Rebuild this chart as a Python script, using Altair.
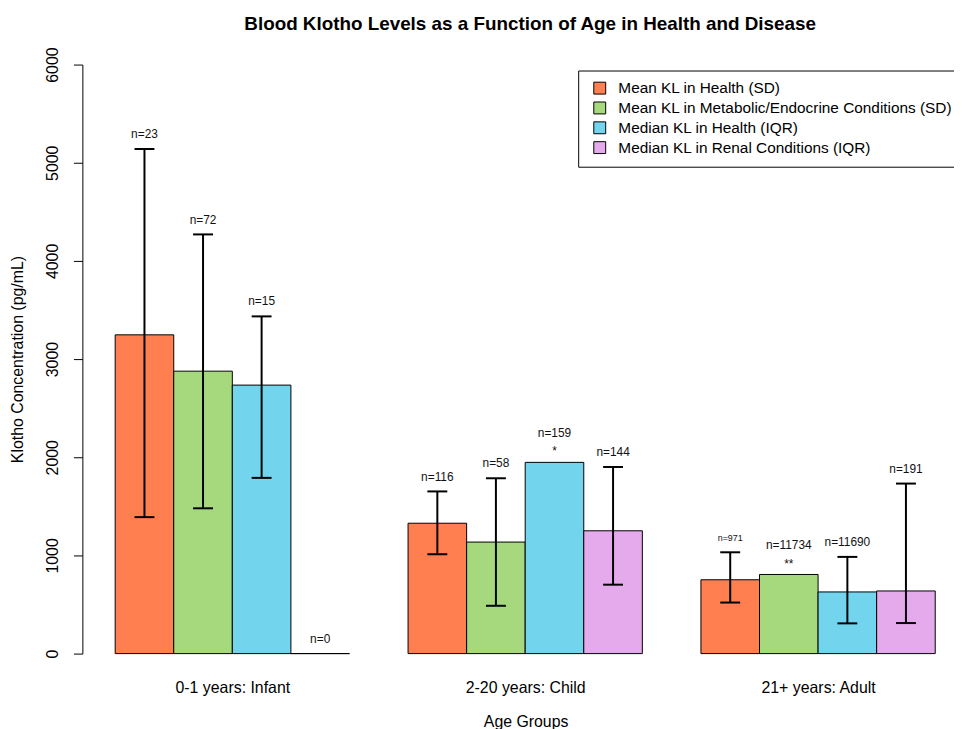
import altair as alt
import pandas as pd

# ---- data ----
groups = ["0-1 years: Infant", "2-20 years: Child", "21+ years: Adult"]
series = [
    "Mean KL in Health (SD)",
    "Mean KL in Metabolic/Endocrine Conditions (SD)",
    "Median KL in Health (IQR)",
    "Median KL in Renal Conditions (IQR)",
]
colors = ["#FF7F50", "#A6D97D", "#72D4ED", "#E5AAEB"]

# values per series, one entry per age group
health_mean = [3247, 1328, 752]
health_mean_lo = [1390, 1012, 520]
health_mean_hi = [5140, 1652, 1032]
health_mean_n = [23, 116, 971]

metab_mean = [2877, 1136, 806]
metab_mean_lo = [1480, 487, None]
metab_mean_hi = [4270, 1786, None]
metab_mean_n = [72, 58, 11734]

health_median = [2735, 1948, 628]
health_median_lo = [1790, None, 308]
health_median_hi = [3435, None, 985]
health_median_n = [15, 159, 11690]

renal_median = [0, 1251, 638]
renal_median_lo = [None, 702, 311]
renal_median_hi = [None, 1901, 1732]
renal_median_n = [0, 144, 191]

significance = {(2, 1): "*", (1, 2): "**"}  # (series, group) -> marker

y_ticks = [0, 1000, 2000, 3000, 4000, 5000, 6000]

# ---- build table ----
vals = [health_mean, metab_mean, health_median, renal_median]
los = [health_mean_lo, metab_mean_lo, health_median_lo, renal_median_lo]
his = [health_mean_hi, metab_mean_hi, health_median_hi, renal_median_hi]
ns = [health_mean_n, metab_mean_n, health_median_n, renal_median_n]

rows = []
for g, grp in enumerate(groups):
    for s, ser in enumerate(series):
        xl = 1 + 5 * g + s
        lo = los[s][g]
        hi = his[s][g]
        rows.append(
            dict(
                group=grp,
                series=ser,
                xl=xl,
                xr=xl + 1,
                xc=xl + 0.5,
                value=vals[s][g],
                lo=lo,
                hi=hi,
                ref=hi if hi is not None else vals[s][g],
                n=ns[s][g],
                nlabel=f"n={ns[s][g]}",
                sig=significance.get((s, g), ""),
            )
        )
df = pd.DataFrame(rows)

centers = [1 + 5 * g + 2 for g in range(len(groups))]
label_expr = "[" + ",".join(f"'{g}'" for g in groups) + "][(datum.value - 3) / 5]"

FONT = "Liberation Sans"
xscale = alt.Scale(domain=[0.44, 15.185], nice=False, zero=False)
yscale = alt.Scale(domain=[0, 6000], nice=False, zero=False)

base = alt.Chart(df)

bars = base.mark_rect(stroke="black", strokeWidth=1).encode(
    x=alt.X(
        "xl:Q",
        scale=xscale,
        axis=alt.Axis(
            values=centers,
            labelExpr=label_expr,
            domain=False,
            ticks=False,
            tickSize=0,
            grid=False,
            labelPadding=26,
            labelFontSize=16,
            labelColor="black",
            title="Age Groups",
            titleFontSize=16,
            titleFontWeight="normal",
            titleColor="black",
            titleX=447,
            titleY=69,
            titleAlign="center",
            titleBaseline="middle",
        ),
    ),
    x2="xr:Q",
    y=alt.Y(
        "value:Q",
        scale=yscale,
        axis=alt.Axis(
            values=y_ticks,
            format="d",
            grid=False,
            tickSize=9,
            tickColor="black",
            domainColor="black",
            labelAngle=-90,
            labelAlign="center",
            labelBaseline="bottom",
            labelPadding=13,
            labelFontSize=16,
            labelColor="black",
            title="Klotho Concentration (pg/mL)",
            titleFontSize=16,
            titleFontWeight="normal",
            titleColor="black",
            titleAngle=-90,
            titleX=-65,
            titleY=297,
            titleAlign="center",
            titleBaseline="middle",
        ),
    ),
    y2=alt.datum(0),
    color=alt.Color(
        "series:N",
        scale=alt.Scale(domain=series, range=colors),
        legend=alt.Legend(
            title=None,
            orient="none",
            legendX=500,
            legendY=6,
            strokeColor="black",
            fillColor="white",
            padding=10,
            symbolType="square",
            symbolSize=144,
            symbolOffset=4,
            symbolStrokeColor="black",
            symbolStrokeWidth=1,
            symbolOpacity=1,
            labelFontSize=15.5,
            labelColor="black",
            labelOffset=11,
            rowPadding=2,
            labelLimit=600,
        ),
    ),
)

err = base.transform_filter("datum.lo != null").mark_rule(
    color="black", strokeWidth=2
).encode(x="xc:Q", y="lo:Q", y2="hi:Q")

cap_lo = (
    base.transform_filter("datum.lo != null")
    .transform_calculate(a="datum.xc - 0.17", b="datum.xc + 0.17")
    .mark_rule(color="black", strokeWidth=2)
    .encode(x="a:Q", x2="b:Q", y="lo:Q")
)
cap_hi = (
    base.transform_filter("datum.hi != null")
    .transform_calculate(a="datum.xc - 0.17", b="datum.xc + 0.17")
    .mark_rule(color="black", strokeWidth=2)
    .encode(x="a:Q", x2="b:Q", y="hi:Q")
)

nsize = alt.condition("datum.n == 971", alt.value(9), alt.value(12))

ntext_plain = (
    base.transform_filter("datum.sig == ''")
    .mark_text(font=FONT, baseline="alphabetic", dy=-11, color="#111111")
    .encode(x="xc:Q", y="ref:Q", text="nlabel:N", size=nsize)
)
ntext_sig = (
    base.transform_filter("datum.sig != ''")
    .mark_text(font=FONT, baseline="alphabetic", dy=-26, color="#111111", fontSize=12)
    .encode(x="xc:Q", y="ref:Q", text="nlabel:N")
)
sigtext = (
    base.transform_filter("datum.sig != ''")
    .mark_text(font=FONT, baseline="alphabetic", dy=-7, color="#111111", fontSize=12)
    .encode(x="xc:Q", y="ref:Q", text="sig:N")
)

chart = (
    alt.layer(bars, err, cap_lo, cap_hi, ntext_plain, ntext_sig, sigtext)
    .properties(
        width=871,
        height=594,
        title=alt.TitleParams(
            "Blood Klotho Levels as a Function of Age in Health and Disease",
            fontSize=19,
            fontWeight="bold",
            font=FONT,
            color="black",
            anchor="middle",
            baseline="alphabetic",
            dx=16,
            dy=18,
            offset=16,
        ),
        autosize=alt.AutoSizeParams(type="none"),
        padding={"left": 75, "top": 54, "right": 8, "bottom": 75},
        background="white",
    )
    .configure(font=FONT)
    .configure_view(stroke=None)
    .configure_legend(strokeWidth=1)
)

chart.save("out.html", embed_options={"renderer": "svg", "actions": False})
